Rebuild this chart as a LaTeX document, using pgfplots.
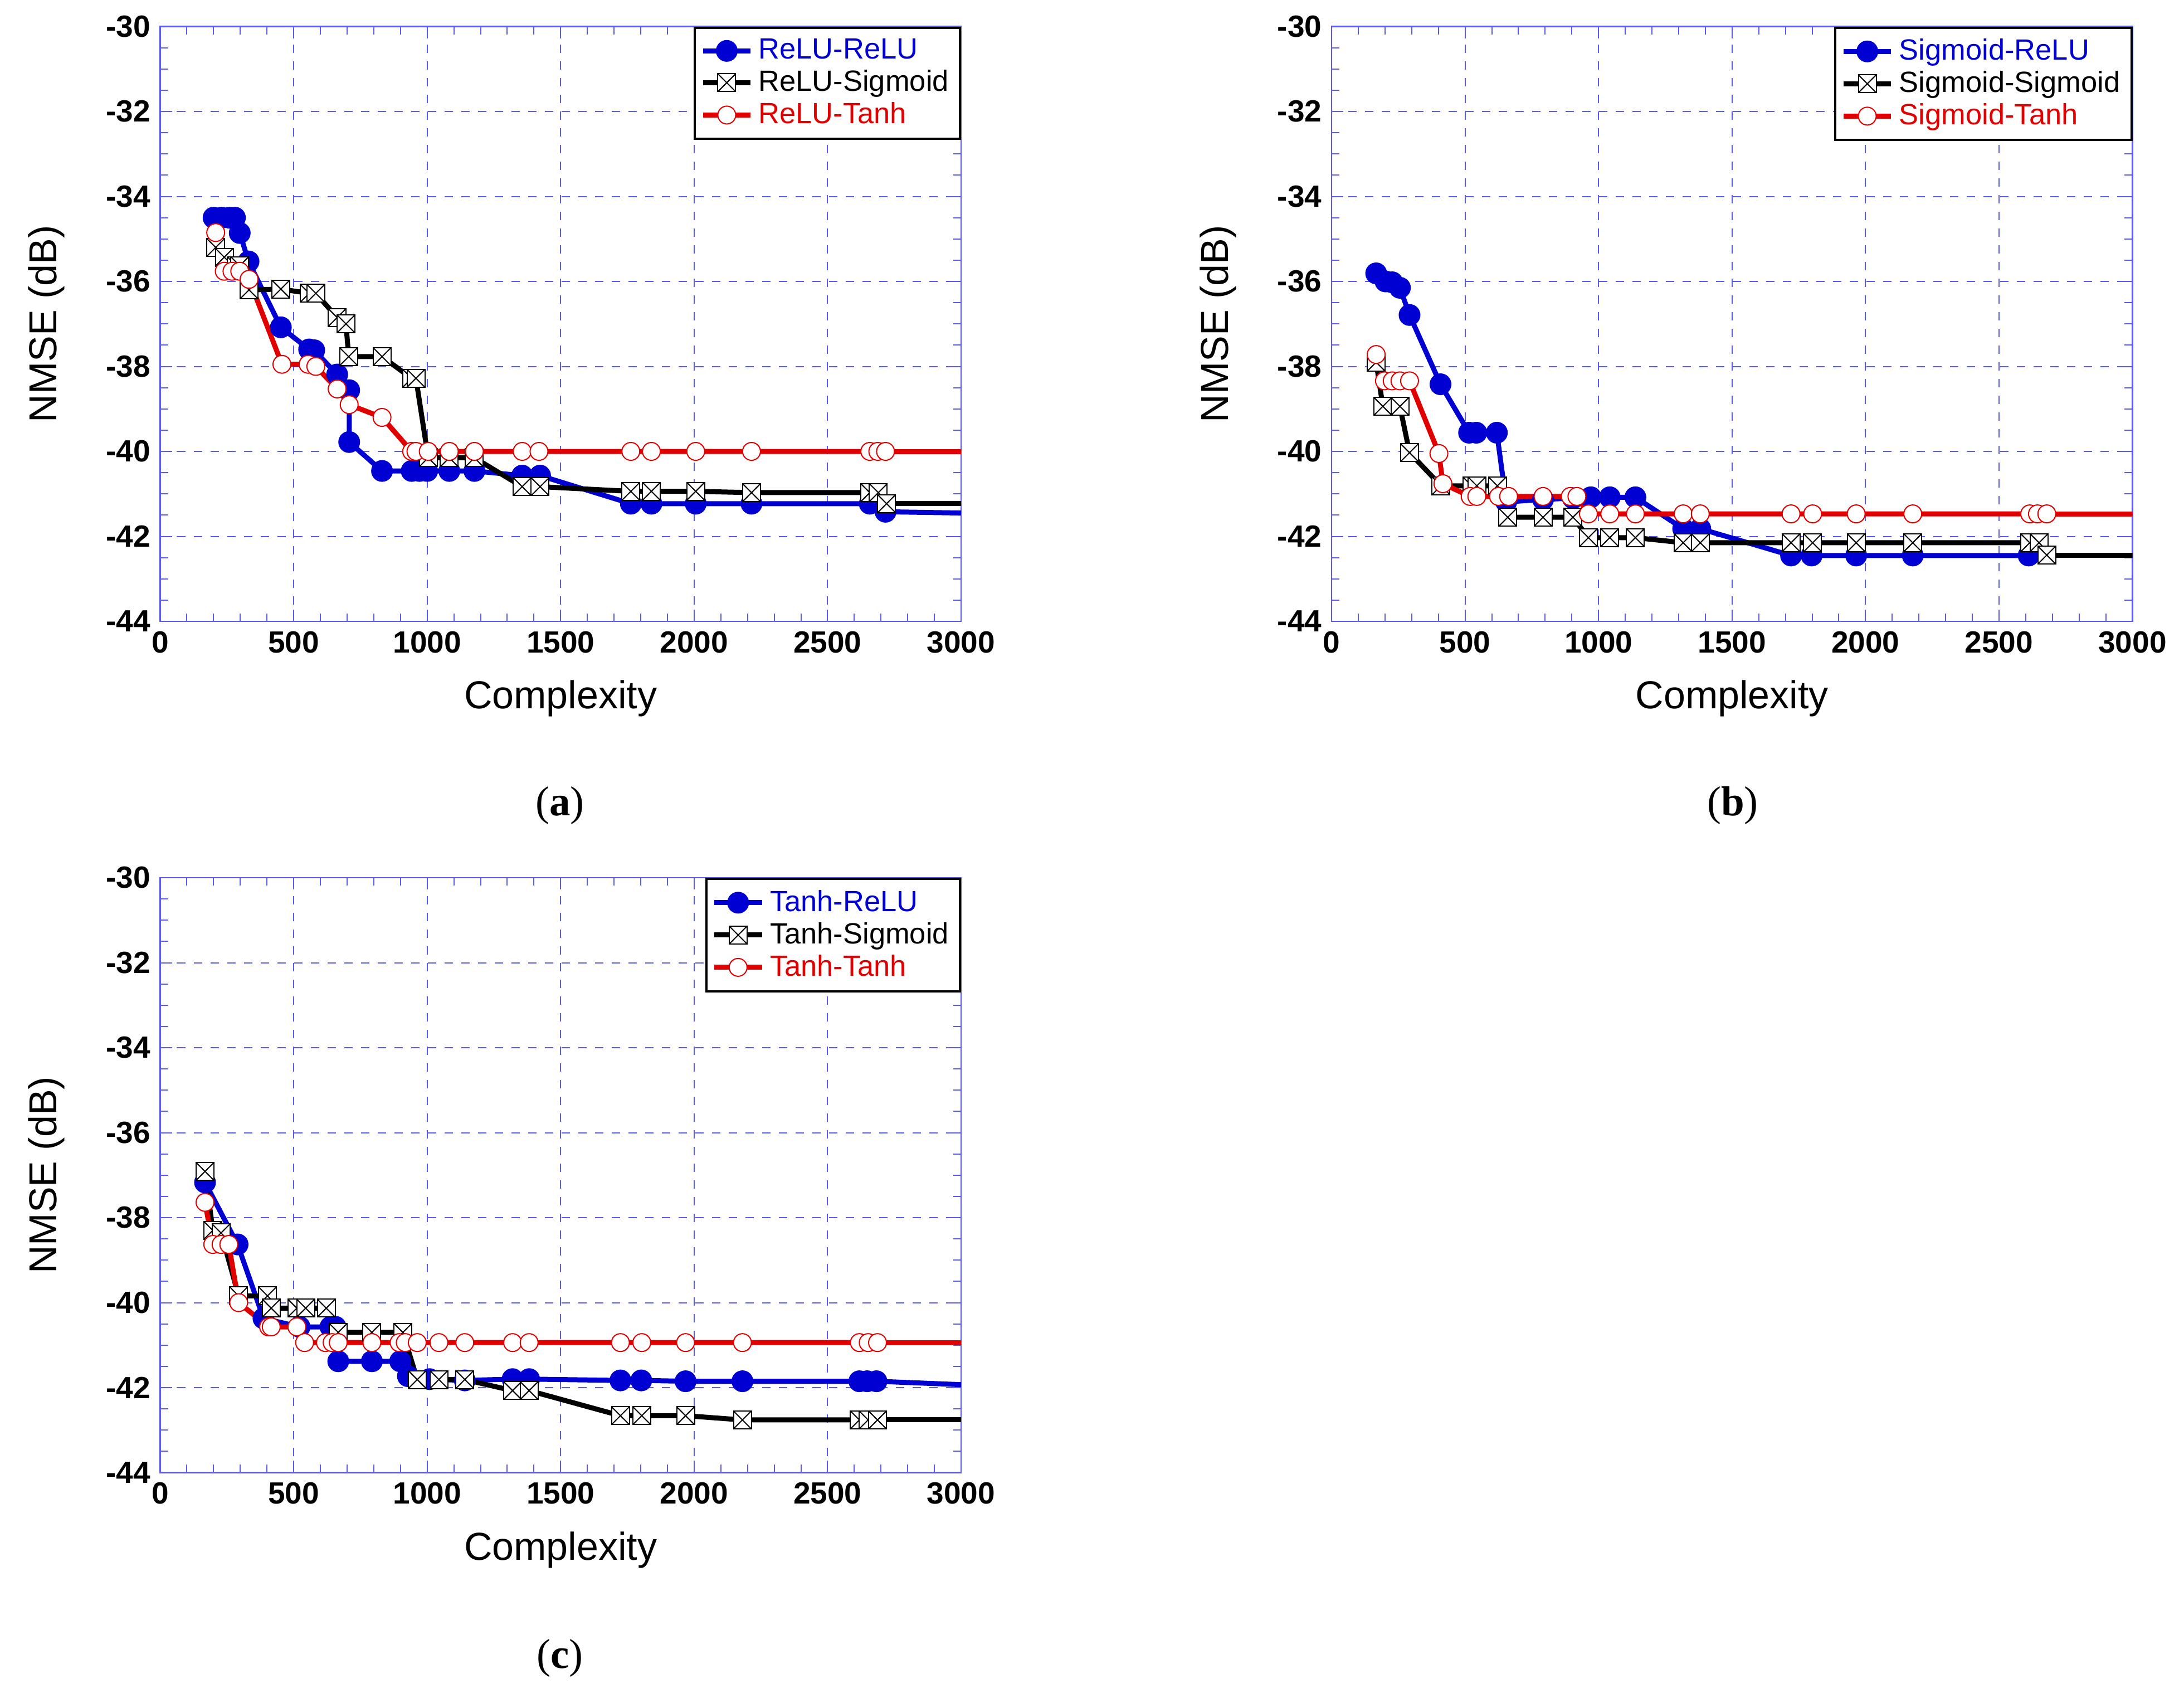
\documentclass[border=0pt]{standalone}
\usepackage{pgfplots}
\pgfplotsset{compat=1.18}
\usepackage{fontspec}
\setmainfont{Liberation Sans}
\newfontfamily\serifcap{Liberation Serif}
\definecolor{mblue}{RGB}{0,0,210}
\definecolor{mred}{RGB}{225,0,0}
\definecolor{gridb}{RGB}{90,90,240}
\pgfdeclareplotmark{boxx}{%
  \pgfpathrectangle{\pgfpoint{-\pgfplotmarksize}{-\pgfplotmarksize}}{\pgfpoint{2\pgfplotmarksize}{2\pgfplotmarksize}}%
  \pgfusepathqfillstroke
  \pgfpathmoveto{\pgfpoint{-\pgfplotmarksize}{-\pgfplotmarksize}}\pgfpathlineto{\pgfpoint{\pgfplotmarksize}{\pgfplotmarksize}}%
  \pgfpathmoveto{\pgfpoint{-\pgfplotmarksize}{\pgfplotmarksize}}\pgfpathlineto{\pgfpoint{\pgfplotmarksize}{-\pgfplotmarksize}}%
  \pgfusepathqstroke}
\pgfplotsset{
  myax/.style={scale only axis, width=287.5pt, height=213.5pt, anchor=south west,
    xmin=0,xmax=3000,ymin=-44,ymax=-30,
    xtick={0,500,...,3000}, ytick={-44,-42,...,-30},
    minor x tick num=4, minor y tick num=3,
    tick align=inside, grid=major,
    major grid style={gridb, dashed, line width=0.4pt},
    axis line style={gridb, line width=0.5pt},
    every tick/.style={gridb},
    ticklabel style={font=\bfseries\fontsize{11}{13}\selectfont},
    /pgf/number format/assume math mode=true,
    /pgf/number format/set thousands separator={},
    scaled x ticks=false,
    xlabel={Complexity}, ylabel={NMSE (dB)},
    label style={font=\fontsize{14}{16}\selectfont},
    xlabel style={yshift=-3pt},
    ylabel style={yshift=8pt},
    legend style={at={(1,1)}, anchor=north east, draw=black, line width=0.8pt, font=\fontsize{10.5}{12}\selectfont, row sep=-1.5pt, inner sep=2pt},
    legend cell align=left,
  },
  sb/.style={mblue, line width=1.8pt, mark=*, mark size=3pt, mark options={solid, fill=mblue, draw=mblue}},
  sk/.style={black, line width=1.8pt, mark=boxx, mark size=3.2pt, mark options={solid, fill=white, draw=black, line width=0.4pt}},
  sr/.style={mred, line width=1.8pt, mark=*, mark size=3.2pt, mark options={solid, fill=white, draw=mred, line width=0.4pt}},
}
\begin{document}
\begin{tikzpicture}
\useasboundingbox (0,0) rectangle (784pt,-607.5pt);
% (a)
\begin{axis}[myax, at={(57.5pt,-223pt)}]
\addplot[mblue, line width=1.8pt, forget plot] coordinates {(2717,-41.42)(3000,-41.45)};
\addplot[black, line width=1.8pt, forget plot] coordinates {(2721,-41.23)(3000,-41.23)};
\addplot[sb] coordinates {(200,-34.5)(230,-34.5)(260,-34.5)(280,-34.5)(298,-34.86)(331,-35.53)(452,-37.08)(558,-37.6)(577,-37.62)(663,-38.19)(708,-38.56)(708,-39.78)(831,-40.46)(942,-40.46)(971,-40.46)(1000,-40.46)(1083,-40.46)(1177,-40.46)(1356,-40.57)(1423,-40.57)(1763,-41.23)(1840,-41.23)(2006,-41.23)(2215,-41.23)(2658,-41.23)(2717,-41.42)};
\addplot[sk] coordinates {(208,-35.2)(240,-35.43)(285,-35.63)(298,-35.63)(333,-36.2)(452,-36.18)(558,-36.28)(583,-36.28)(663,-36.85)(696,-37.0)(706,-37.77)(831,-37.77)(942,-38.28)(958,-38.28)(1004,-40.15)(1083,-40.15)(1177,-40.15)(1356,-40.83)(1423,-40.83)(1763,-40.94)(1840,-40.94)(2006,-40.94)(2215,-40.97)(2658,-40.97)(2690,-40.97)(2721,-41.23)};
\addplot[sr] coordinates {(208,-34.85)(240,-35.76)(269,-35.76)(298,-35.76)(333,-35.95)(456,-37.95)(554,-37.95)(583,-38.0)(663,-38.53)(708,-38.9)(831,-39.2)(942,-40)(958,-40)(1004,-40)(1083,-40)(1177,-40)(1356,-40)(1419,-40)(1763,-40)(1840,-40)(2006,-40)(2215,-40)(2658,-40)(2688,-40)(2717,-40)};
\addplot[mred, line width=1.8pt, forget plot] coordinates {(2717,-40)(3000,-40)};
\legend{\textcolor{mblue}{ReLU-ReLU},ReLU-Sigmoid,\textcolor{mred}{ReLU-Tanh}}
\end{axis}
% (b)
\begin{axis}[myax, at={(478pt,-223pt)}]
\addplot[sb] coordinates {(167,-35.81)(202,-36.0)(227,-36.02)(256,-36.15)(292,-36.79)(408,-38.42)(515,-39.56)(542,-39.56)(619,-39.56)(654,-41.19)(792,-41.13)(904,-41.1)(971,-41.08)(1042,-41.08)(1138,-41.08)(1317,-41.82)(1381,-41.82)(1721,-42.45)(1798,-42.45)(1965,-42.45)(2177,-42.45)(2611,-42.45)};
\addplot[mblue, line width=1.8pt, forget plot] coordinates {(2611,-42.45)(2680,-42.45)};
\addplot[sk] coordinates {(167,-37.9)(192,-38.94)(256,-38.94)(292,-40.03)(410,-40.81)(525,-40.81)(544,-40.81)(621,-40.81)(660,-41.55)(792,-41.55)(904,-41.55)(962,-42.03)(1042,-42.03)(1138,-42.03)(1317,-42.15)(1381,-42.15)(1721,-42.15)(1802,-42.15)(1965,-42.15)(2177,-42.15)(2615,-42.15)(2650,-42.15)(2679,-42.44)};
\addplot[black, line width=1.8pt, forget plot] coordinates {(2679,-42.44)(3000,-42.44)};
\addplot[sr] coordinates {(167,-37.72)(198,-38.34)(227,-38.34)(256,-38.34)(292,-38.34)(402,-40.05)(417,-40.76)(519,-41.06)(544,-41.06)(625,-41.06)(663,-41.06)(792,-41.06)(894,-41.06)(919,-41.06)(962,-41.47)(1042,-41.47)(1138,-41.47)(1317,-41.47)(1381,-41.47)(1721,-41.47)(1802,-41.47)(1965,-41.47)(2177,-41.47)(2615,-41.47)(2644,-41.47)(2679,-41.47)};
\addplot[mred, line width=1.8pt, forget plot] coordinates {(2679,-41.47)(3000,-41.47)};
\legend{\textcolor{mblue}{Sigmoid-ReLU},Sigmoid-Sigmoid,\textcolor{mred}{Sigmoid-Tanh}}
\end{axis}
% (c)
\begin{axis}[myax, at={(57.5pt,-528.5pt)}]
\addplot[sb] coordinates {(168,-37.17)(290,-38.63)(387,-40.37)(522,-40.57)(638,-40.57)(657,-40.57)(667,-41.38)(793,-41.38)(899,-41.38)(928,-41.73)(1009,-41.8)(1141,-41.83)(1320,-41.8)(1382,-41.8)(1724,-41.83)(1802,-41.83)(1968,-41.85)(2181,-41.85)(2619,-41.85)(2648,-41.85)(2683,-41.85)};
\addplot[mblue, line width=1.8pt, forget plot] coordinates {(2683,-41.85)(3000,-41.93)};
\addplot[sk] coordinates {(168,-36.91)(197,-38.3)(228,-38.36)(294,-39.84)(402,-39.84)(416,-40.13)(512,-40.13)(545,-40.13)(622,-40.13)(667,-40.7)(793,-40.7)(909,-40.7)(963,-41.81)(1044,-41.81)(1141,-41.81)(1320,-42.07)(1382,-42.07)(1724,-42.66)(1804,-42.66)(1968,-42.66)(2181,-42.76)(2619,-42.76)(2652,-42.76)(2687,-42.76)};
\addplot[black, line width=1.8pt, forget plot] coordinates {(2687,-42.76)(3000,-42.76)};
\addplot[sr] coordinates {(168,-37.64)(197,-38.63)(228,-38.63)(257,-38.63)(294,-40.0)(406,-40.57)(416,-40.57)(512,-40.57)(541,-40.94)(619,-40.94)(644,-40.94)(667,-40.94)(793,-40.94)(895,-40.94)(918,-40.94)(963,-40.94)(1044,-40.94)(1141,-40.94)(1320,-40.94)(1382,-40.94)(1724,-40.94)(1804,-40.94)(1968,-40.94)(2181,-40.94)(2619,-40.94)(2652,-40.94)(2687,-40.94)};
\addplot[mred, line width=1.8pt, forget plot] coordinates {(2687,-40.94)(3000,-40.94)};
\legend{\textcolor{mblue}{Tanh-ReLU},Tanh-Sigmoid,\textcolor{mred}{Tanh-Tanh}}
\end{axis}
\node[font=\serifcap\fontsize{15}{17}\selectfont] at (201pt,-289pt) {(\textbf{a})};
\node[font=\serifcap\fontsize{15}{17}\selectfont] at (622pt,-289pt) {(\textbf{b})};
\node[font=\serifcap\fontsize{15}{17}\selectfont] at (201pt,-595pt) {(\textbf{c})};
\end{tikzpicture}
\end{document}
